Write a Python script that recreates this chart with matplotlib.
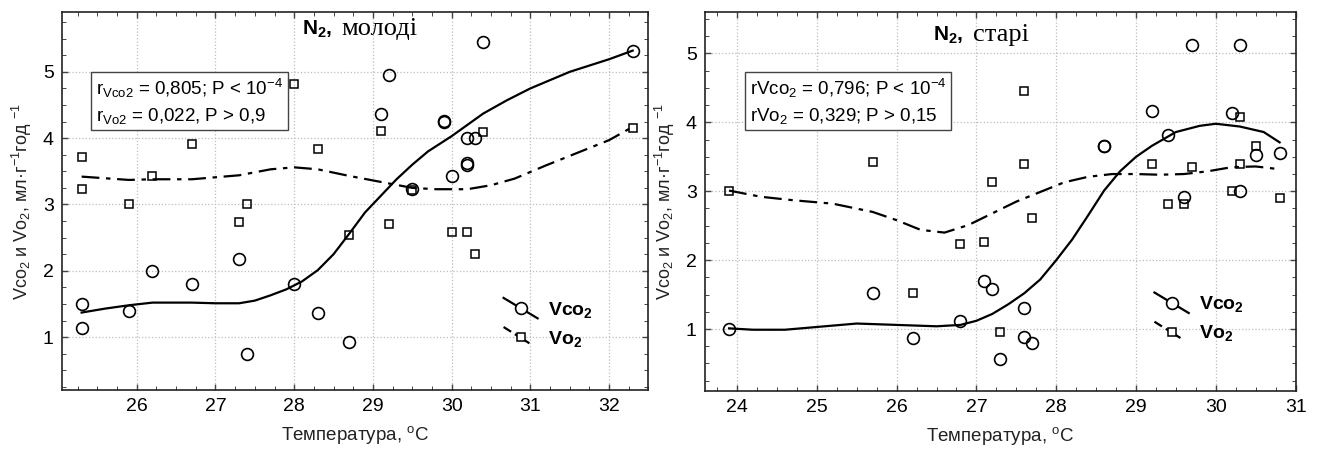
import matplotlib
matplotlib.use('Agg')
import matplotlib.pyplot as plt
from matplotlib.ticker import MultipleLocator

plt.rcParams['font.family'] = ['Liberation Sans', 'DejaVu Sans']
plt.rcParams['mathtext.default'] = 'regular'

# --- молоді ---
young_t_co2 = [25.3, 25.3, 25.9, 26.2, 26.7, 27.3, 27.4, 28.0, 28.3, 28.7, 29.1, 29.2,
               29.5, 29.9, 29.9, 30.0, 30.2, 30.2, 30.2, 30.3, 30.4, 32.3]
young_vco2 = [1.50, 1.14, 1.39, 2.00, 1.80, 2.18, 0.75, 1.80, 1.36, 0.92, 4.37, 4.95,
              3.23, 4.26, 4.24, 3.43, 4.00, 3.62, 3.60, 4.00, 5.45, 5.32]
young_t_o2 = [25.3, 25.3, 25.9, 26.2, 26.7, 27.3, 27.4, 28.0, 28.3, 28.7, 29.1, 29.2,
              29.5, 30.0, 30.2, 30.3, 30.4, 32.3]
young_vo2 = [3.72, 3.24, 3.00, 3.43, 3.91, 2.73, 3.00, 4.81, 3.84, 2.54, 4.11, 2.71,
             3.22, 2.58, 2.58, 2.25, 4.10, 4.16]

# згладжені криві (DWLS)
young_fit_t = [25.3, 25.6, 25.9, 26.2, 26.7, 27.0, 27.3, 27.5, 27.7, 27.9, 28.1, 28.3,
               28.5, 28.7, 28.9, 29.1, 29.3, 29.5, 29.7, 30.0, 30.2, 30.4, 30.7, 31.0,
               31.5, 32.0, 32.3]
young_fit_co2 = [1.37, 1.43, 1.48, 1.52, 1.52, 1.51, 1.51, 1.55, 1.63, 1.72, 1.84, 2.01,
                 2.25, 2.56, 2.88, 3.13, 3.38, 3.60, 3.80, 4.03, 4.20, 4.37, 4.57, 4.75,
                 5.00, 5.19, 5.32]
young_fit_t2 = [25.3, 25.9, 26.2, 26.7, 27.3, 27.7, 28.0, 28.3, 28.7, 29.1, 29.5, 29.8,
                30.2, 30.5, 30.8, 31.2, 31.6, 32.0, 32.3]
young_fit_o2 = [3.42, 3.37, 3.38, 3.38, 3.44, 3.53, 3.56, 3.53, 3.43, 3.34, 3.25, 3.23,
                3.23, 3.29, 3.39, 3.59, 3.78, 3.97, 4.17]

# --- старі ---
old_t_co2 = [23.9, 25.7, 26.2, 26.8, 27.1, 27.2, 27.3, 27.6, 27.6, 27.7, 28.6, 28.6,
             29.2, 29.4, 29.6, 29.7, 30.2, 30.3, 30.3, 30.5, 30.8]
old_vco2 = [1.00, 1.52, 0.87, 1.12, 1.70, 1.58, 0.57, 1.31, 0.88, 0.80, 3.65, 3.66,
            4.17, 3.81, 2.91, 5.12, 4.13, 5.13, 3.01, 3.52, 3.56]
old_t_o2 = [23.9, 25.7, 26.2, 26.8, 27.1, 27.2, 27.3, 27.6, 27.6, 27.7, 29.2, 29.4,
            29.6, 29.7, 30.2, 30.3, 30.3, 30.5, 30.8]
old_vo2 = [3.01, 3.43, 1.52, 2.23, 2.27, 3.13, 0.95, 4.45, 3.40, 2.61, 3.40, 2.81,
           2.81, 3.35, 3.01, 4.08, 3.39, 3.65, 2.90]

old_fit_t = [23.9, 24.2, 24.6, 25.0, 25.5, 26.0, 26.5, 26.8, 27.0, 27.2, 27.4, 27.6,
             27.8, 28.0, 28.2, 28.4, 28.6, 28.8, 29.0, 29.2, 29.5, 29.8, 30.0, 30.3,
             30.6, 30.8]
old_fit_co2 = [1.01, 0.99, 0.99, 1.03, 1.08, 1.06, 1.04, 1.06, 1.12, 1.22, 1.36, 1.52,
               1.72, 2.00, 2.30, 2.65, 3.01, 3.29, 3.50, 3.66, 3.86, 3.95, 3.98, 3.94,
               3.86, 3.71]
old_fit_t2 = [23.9, 24.3, 24.7, 25.2, 25.7, 26.0, 26.3, 26.6, 26.9, 27.2, 27.5, 27.8,
              28.1, 28.4, 28.7, 29.0, 29.3, 29.6, 29.9, 30.2, 30.5, 30.8]
old_fit_o2 = [3.01, 2.92, 2.87, 2.82, 2.70, 2.58, 2.44, 2.40, 2.51, 2.68, 2.85, 2.99,
              3.13, 3.21, 3.25, 3.25, 3.24, 3.25, 3.29, 3.35, 3.36, 3.32]

DASH = (0, (8, 3, 2, 3))


def draw_panel(ax, t1, y1, t2, y2, ft1, fy1, ft2, fy2, xlim, ylim, xticks,
               title, stats, legend_pos):
    ax.plot(ft1, fy1, color='black', lw=1.6, zorder=2)
    ax.plot(ft2, fy2, color='black', lw=1.6, linestyle=DASH, zorder=2)
    ax.plot(t1, y1, 'o', ms=8.5, mfc='none', mec='black', mew=1.2, zorder=3)
    ax.plot(t2, y2, 's', ms=5.5, mfc='none', mec='black', mew=1.1, zorder=3)

    ax.set_xlim(*xlim)
    ax.set_ylim(*ylim)
    ax.set_xticks(xticks)
    ax.set_yticks([1, 2, 3, 4, 5])
    ax.xaxis.set_minor_locator(MultipleLocator(0.25))
    ax.yaxis.set_minor_locator(MultipleLocator(0.25))
    ax.tick_params(which='both', direction='in', top=True, right=True,
                   labelsize=14, color='#444444')
    ax.tick_params(which='major', length=4, width=1, pad=6)
    ax.tick_params(which='minor', length=3, width=0.7)
    ax.grid(True, which='major', linestyle=':', color='#bdbdbd', lw=0.9)
    for s in ax.spines.values():
        s.set_color('#222222')
        s.set_linewidth(1.2)

    ax.set_xlabel('Температура, $^{o}$C', fontsize=13.5, color='#222222', labelpad=6)
    ax.set_ylabel('Vco$_2$ и Vo$_2$, мл·г$^{-1}$год $^{-1}$', fontsize=13,
                  color='#222222', labelpad=6)

    # заголовок панелі: N2 (жирний) + група (serif)
    tx, ty = title[0]
    ax.text(tx, ty, 'N$_2$,', transform=ax.transAxes, ha='right', va='center',
            fontsize=15, fontweight='bold')
    ax.text(tx + 0.016, ty, title[1], transform=ax.transAxes, ha='left',
            va='center', fontsize=19, family='Liberation Serif')

    # коефіцієнти кореляції
    sx, sy = stats[0]
    ax.text(sx, sy, stats[1], transform=ax.transAxes, ha='left', va='top',
            fontsize=13.5, linespacing=1.4,
            bbox=dict(boxstyle='square,pad=0.25', fc='white', ec='#444444', lw=1))

    # легенда
    lx, ly = legend_pos
    ax.plot([lx, lx + 0.058], [ly + 0.027, ly - 0.027], color='black', lw=1.6,
            transform=ax.transAxes, clip_on=False, zorder=4)
    ax.plot([lx + 0.029], [ly], 'o', ms=8.5, mfc='white', mec='black', mew=1.2,
            transform=ax.transAxes, zorder=5)
    ax.plot([lx, lx + 0.044], [ly - 0.05, ly - 0.093], color='black', lw=1.6,
            linestyle=(0, (4, 2, 2, 2)), transform=ax.transAxes, zorder=4)
    ax.plot([lx + 0.029], [ly - 0.077], 's', ms=5.5, mfc='white', mec='black',
            mew=1.1, transform=ax.transAxes, zorder=5)
    ax.text(lx + 0.075, ly - 0.004, 'Vco$_2$', transform=ax.transAxes, ha='left',
            va='center', fontsize=14, fontweight='bold')
    ax.text(lx + 0.075, ly - 0.081, 'Vo$_2$', transform=ax.transAxes, ha='left',
            va='center', fontsize=14, fontweight='bold')


fig = plt.figure(figsize=(13.18, 4.5), dpi=100)
ax1 = fig.add_axes([0.047, 0.133, 0.445, 0.84])
ax2 = fig.add_axes([0.535, 0.131, 0.448, 0.842])

draw_panel(ax1, young_t_co2, young_vco2, young_t_o2, young_vo2,
           young_fit_t, young_fit_co2, young_fit_t2, young_fit_o2,
           (25.05, 32.5), (0.2, 5.9), range(26, 33),
           ((0.461, 0.955), 'молоді'),
           ((0.058, 0.83), 'r$_{Vco2}$ = 0,805; P < 10$^{-4}$\n'
                           'r$_{Vo2}$ = 0,022, P > 0,9'),
           (0.753, 0.217))

draw_panel(ax2, old_t_co2, old_vco2, old_t_o2, old_vo2,
           old_fit_t, old_fit_co2, old_fit_t2, old_fit_o2,
           (23.6, 31.0), (0.1, 5.6), range(24, 32),
           ((0.437, 0.94), 'старі'),
           ((0.076, 0.83), 'rVco$_2$ = 0,796; P < 10$^{-4}$\n'
                           'rVo$_2$ = 0,329; P > 0,15'),
           (0.761, 0.233))

fig.savefig('out.png', dpi=100)
